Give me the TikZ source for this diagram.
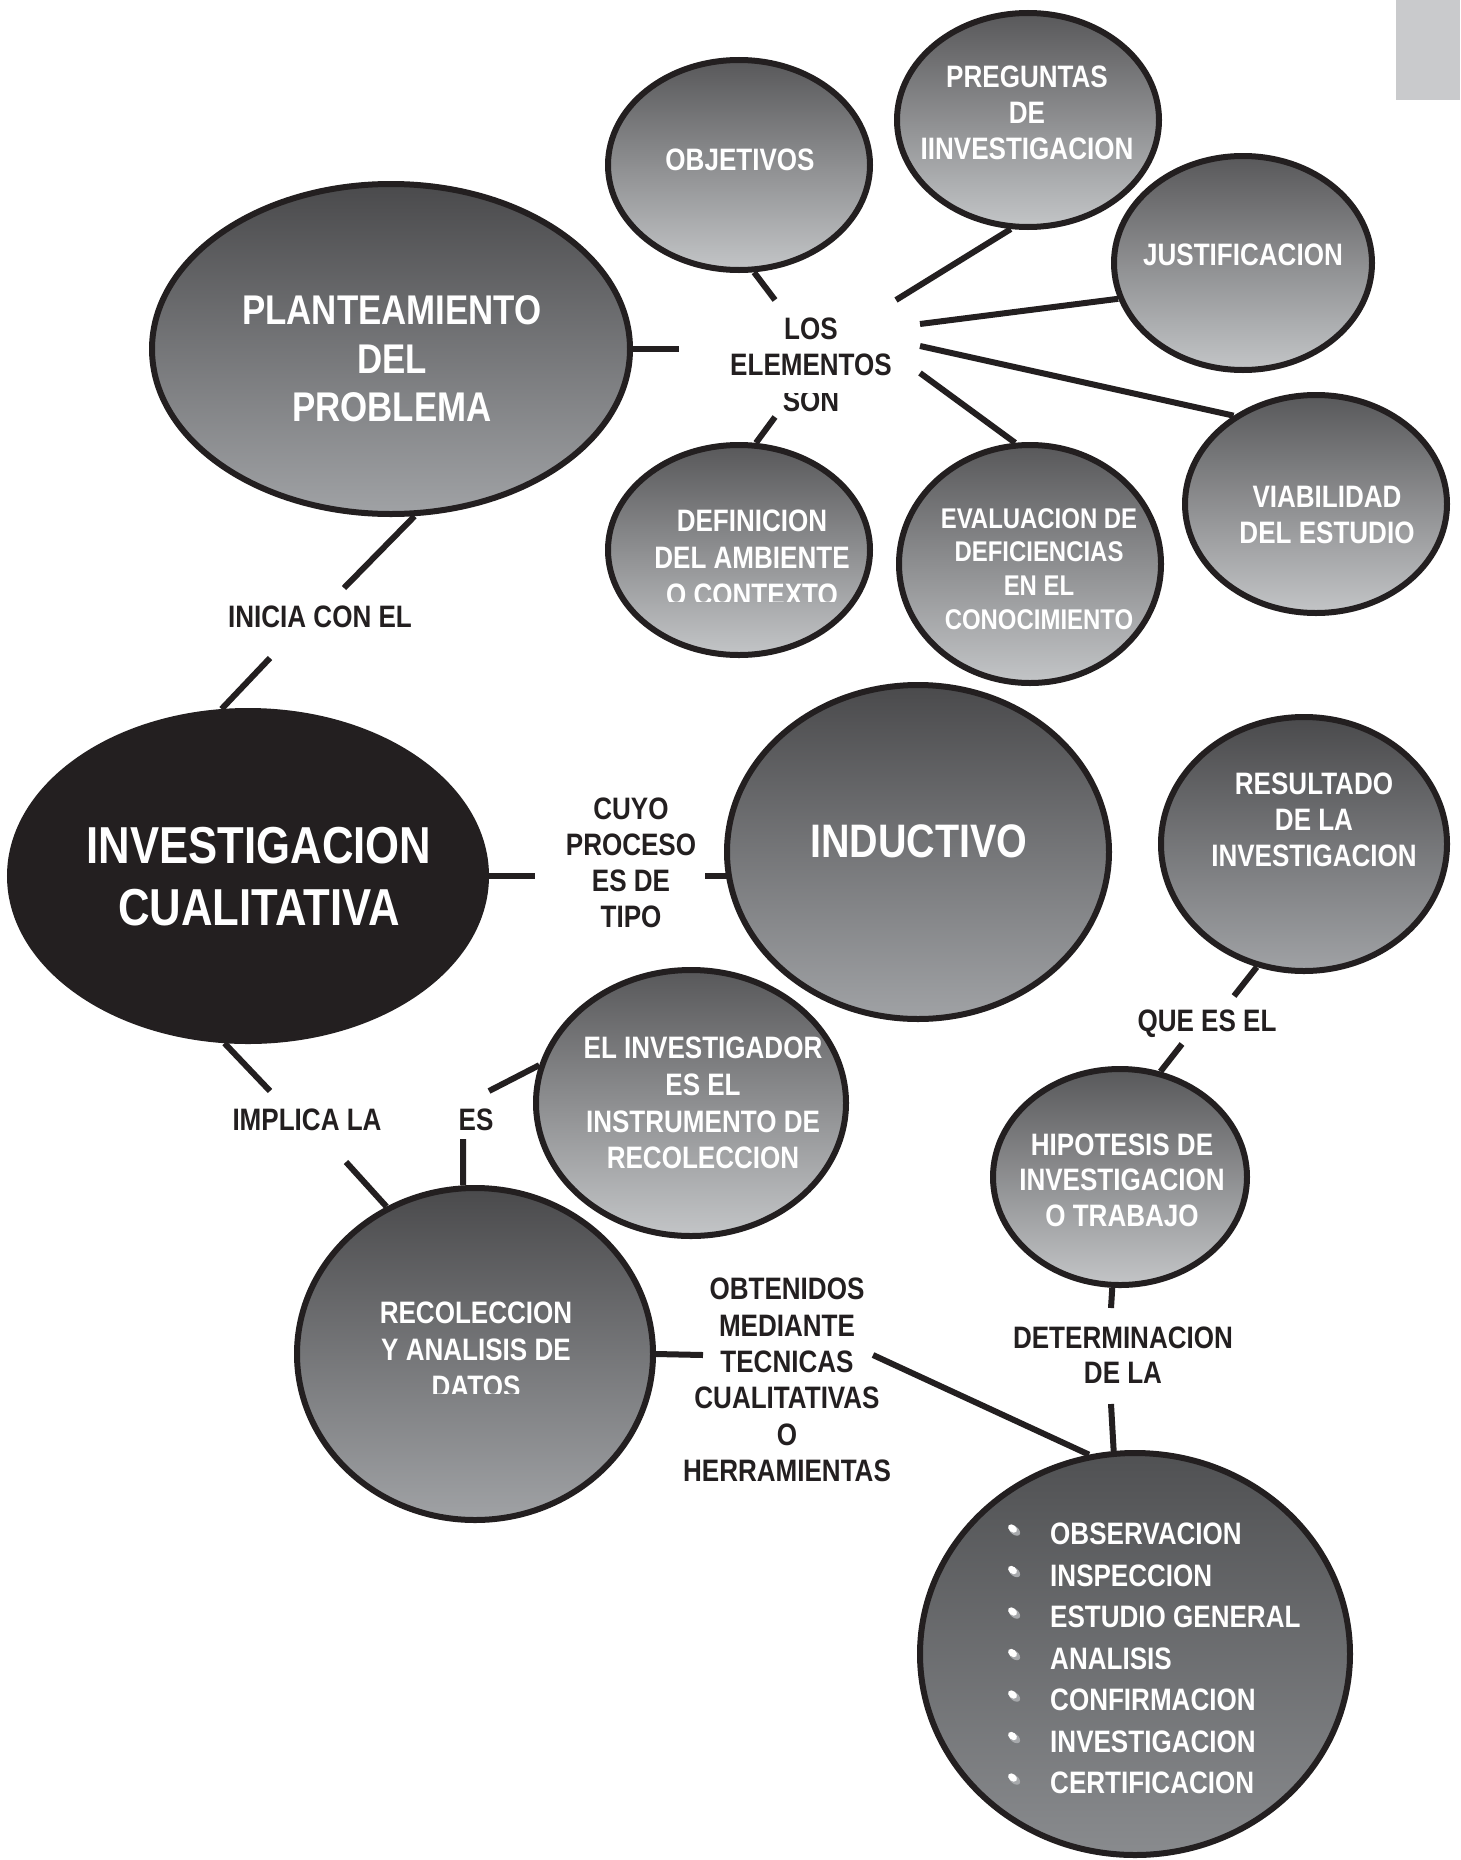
\documentclass[tikz,border=0pt]{standalone}
\usepackage{fontspec}
\newfontfamily\cond{Liberation Sans}[UprightFont={* Bold},FakeStretch=0.84]
\usetikzlibrary{shapes.geometric}
\definecolor{ink}{HTML}{231F20}
\definecolor{tabgray}{HTML}{C9CACC}
\definecolor{dkA}{HTML}{4A4A4C}
\definecolor{ltA}{HTML}{A0A2A5}
\definecolor{dkB}{HTML}{58585A}
\definecolor{ltB}{HTML}{C3C5C7}
\definecolor{dkC}{HTML}{505153}
\definecolor{ltC}{HTML}{898B8E}
\definecolor{dotshade}{HTML}{A7A9AC}
\begin{document}
\begin{tikzpicture}[x=1pt,y=-1pt,
  bubble/.style={ellipse, draw=ink, line width=6pt, inner sep=0pt},
  dark/.style={bubble, top color=dkA, bottom color=ltA},
  light/.style={bubble, top color=dkB, bottom color=ltB},
  flat/.style={bubble, top color=dkC, bottom color=ltC},
  solid/.style={bubble, fill=ink},
  sz/.style n args={2}{minimum width=#1pt, minimum height=#2pt},
  intext/.style={font=\cond\fontsize{31}{36}\selectfont, align=center, inner sep=0pt, text=white},
  lbl/.style={font=\cond\fontsize{31}{36}\selectfont, align=center, inner sep=0pt, text=ink},
  link/.style={draw=ink, line width=6pt},
  dotback/.style={ellipse, fill=dotshade, inner sep=0pt, minimum width=13pt, minimum height=8pt, rotate=-40},
  dotfront/.style={ellipse, fill=white, inner sep=0pt, minimum width=10pt, minimum height=7pt, rotate=-40},
  item/.style={font=\cond\fontsize{31}{36}\selectfont, anchor=west, inner sep=0pt, text=white}]

% page
\fill[white] (0,0) rectangle (1460,1860);
\useasboundingbox (0,0) rectangle (1460,1860);
\fill[tabgray] (1396,0) rectangle (1460,100);

% bubbles
\node[dark,  sz={478}{330}] (plan)  at (391,349)  {};
\node[solid, sz={476}{330}] (inv)   at (248,876)  {};
\node[light, sz={262}{210}] (obj)   at (739,165)  {};
\node[light, sz={262}{214}] (preg)  at (1028,120) {};
\node[light, sz={258}{214}] (just)  at (1243,263) {};
\node[light, sz={262}{218}] (viab)  at (1316,504) {};
\node[light, sz={262}{210}] (def)   at (739,550)  {};
\node[light, sz={262}{238}] (eval)  at (1030,564) {};
\node[dark,  sz={382}{334}] (ind)   at (918,852)  {};
\node[dark,  sz={286}{254}] (res)   at (1304,844) {};
\node[light, sz={310}{266}] (elinv) at (691,1103) {};
\node[light, sz={254}{216}] (hipo)  at (1120,1177){};
\node[dark,  sz={356}{332}] (recol) at (475,1354) {};
\node[flat,  sz={430}{402}] (list)  at (1135,1654){};

% texts inside the bubbles
\node[intext, font=\cond\fontsize{41.5}{48.5}\selectfont] (plan-t) at (392,359) {PLANTEAMIENTO\\DEL\\PROBLEMA};
\node[intext, font=\cond\fontsize{52}{62}\selectfont] (inv-t) at (259,877) {INVESTIGACION\\CUALITATIVA};
\node[intext, font=\cond\fontsize{47}{52}\selectfont] (ind-t) at (919,841) {INDUCTIVO};
\node[intext] (obj-t) at (740,160) {OBJETIVOS};
\node[intext] (preg-t) at (1027,113) {PREGUNTAS\\DE\\IINVESTIGACION};
\node[intext] (just-t) at (1243,255) {JUSTIFICACION};
\node[intext] (viab-t) at (1327,515) {VIABILIDAD\\DEL ESTUDIO};
\begin{scope}
  \clip (600,480) rectangle (900,601);
  \node[intext, font=\cond\fontsize{31}{37}\selectfont] (def-t) at (752,558) {DEFINICION\\DEL AMBIENTE\\O CONTEXTO};
\end{scope}
\node[intext, font=\cond\fontsize{28.5}{33.7}\selectfont] (eval-t) at (1039,569) {EVALUACION DE\\DEFICIENCIAS\\EN EL\\CONOCIMIENTO};
\node[intext] (res-t) at (1314,820) {RESULTADO\\DE LA\\INVESTIGACION};
\node[intext, font=\cond\fontsize{31}{36.7}\selectfont] (elinv-t) at (703,1103) {EL INVESTIGADOR\\ES EL\\INSTRUMENTO DE\\RECOLECCION};
\node[intext, font=\cond\fontsize{31}{35.5}\selectfont] (hipo-t) at (1122,1180) {HIPOTESIS DE\\INVESTIGACION\\O TRABAJO};
\begin{scope}
  \clip (320,1280) rectangle (640,1393);
  \node[intext, font=\cond\fontsize{31}{37}\selectfont] (recol-t) at (476,1350) {RECOLECCION\\Y ANALISIS DE\\DATOS};
\end{scope}

% list of techniques
\foreach \n/\t [count=\i from 0] in {a/OBSERVACION, b/INSPECCION, c/ESTUDIO GENERAL, d/ANALISIS, e/CONFIRMACION, f/INVESTIGACION, g/CERTIFICACION}{
  \node[dotback]  (dot-\n)  at (1014.5,1530.5+41.5*\i) {};
  \node[dotfront] (dotf-\n) at (1012.5,1528.5+41.5*\i) {};
  \node[item] (it-\n) at (1050,1534+41.5*\i) {\t};
}

% linking phrases
\begin{scope}
  \clip (700,393) rectangle (920,420);
  \node[lbl] (los-b) at (811,365) {LOS\\ELEMENTOS\\SON};
\end{scope}
\begin{scope}
  \clip (700,300) rectangle (920,392);
  \node[lbl] (los) at (811,365) {LOS\\ELEMENTOS\\\phantom{SON}};
\end{scope}
\node[lbl] (inicia) at (320,617) {INICIA CON EL};
\node[lbl] (cuyo) at (631,863) {CUYO\\PROCESO\\ES DE\\TIPO};
\node[lbl] (implica) at (307,1120) {IMPLICA LA};
\node[lbl] (es) at (476,1120) {ES};
\node[lbl] (que) at (1207,1024) {QUE ES EL};
\node[lbl, font=\cond\fontsize{31}{36.4}\selectfont] (obten) at (787,1380) {OBTENIDOS\\MEDIANTE\\TECNICAS\\CUALITATIVAS\\O\\HERRAMIENTAS};
\node[lbl, font=\cond\fontsize{31}{35}\selectfont] (determ) at (1123,1355) {DETERMINACION\\DE LA};

% free ends of the connectors, beside the linking phrases
\coordinate (los-w) at (679,349);
\coordinate (los-o) at (775,300);
\coordinate (los-p) at (896,300);
\coordinate (los-j) at (920,324);
\coordinate (los-v) at (920,346);
\coordinate (los-e) at (920,373);
\coordinate (los-d) at (775,417);
\coordinate (ini-n) at (344,588);
\coordinate (ini-s) at (270,658);
\coordinate (cuyo-w) at (535,876);
\coordinate (cuyo-e) at (705,876);
\coordinate (imp-n) at (270,1091);
\coordinate (imp-s) at (346,1162);
\coordinate (es-n) at (489,1091);
\coordinate (es-s) at (463,1139);
\coordinate (que-n) at (1234,996);
\coordinate (que-s) at (1182,1044);
\coordinate (obt-w) at (703,1355);
\coordinate (obt-e) at (873,1355);
\coordinate (det-n) at (1111,1308);
\coordinate (det-s) at (1111,1404);

% connectors
\draw[link] (plan.east) -- (los-w);
\draw[link] (obj.-82.4) -- (los-o);
\draw[link] (preg.-99.3) -- (los-p);
\draw[link] (just.-164.7) -- (los-j);
\draw[link] (viab.133.3) -- (los-v);
\draw[link] (eval.97) -- (los-e);
\draw[link] (def.81.2) -- (los-d);
\draw[link] (plan.-82.9) -- (ini-n);
\draw[link] (ini-s) -- (inv.99.6);
\draw[link] (inv.east) -- (cuyo-w);
\draw[link] (cuyo-e) -- ([xshift=3pt]cuyo-e -| ind.west);
\draw[link] (inv.-98.5) -- (imp-n);
\draw[link] (imp-s) -- (recol.121);
\draw[link] (es-n) -- (elinv.166.8);
\draw[link] (es-s) -- (recol.94.1);
\draw[link] (res.-111.2) -- (que-n);
\draw[link] (que-s) -- (hipo.69.6);
\draw[link] (recol.east) -- (obt-w);
\draw[link] (obt-e) -- (list.103.1);
\draw[link] (hipo.-94.7) -- (det-n);
\draw[link] (det-s) -- (list.96.7);
\end{tikzpicture}
\end{document}
